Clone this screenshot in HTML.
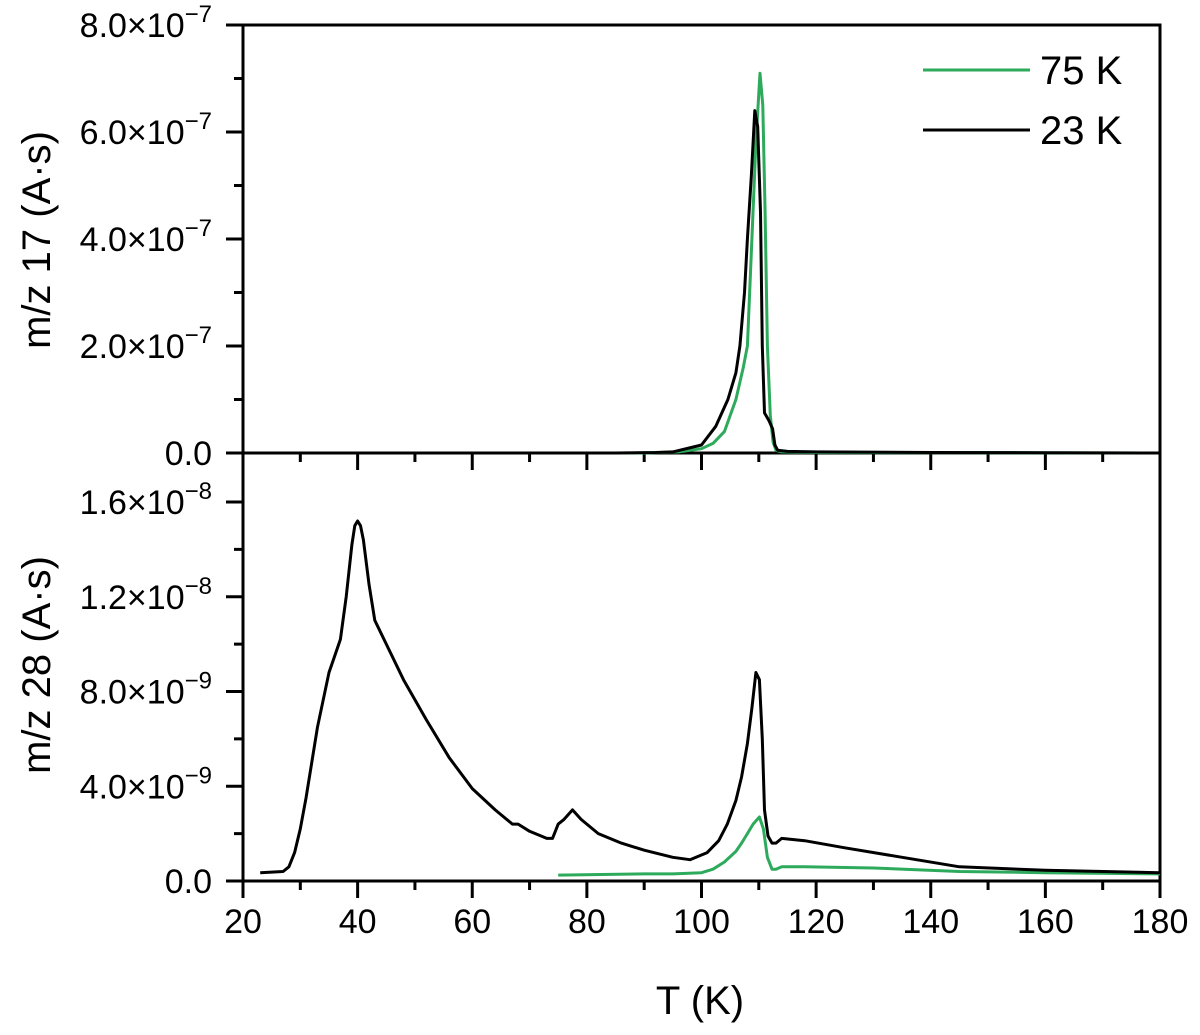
<!DOCTYPE html>
<html><head><meta charset="utf-8"><style>
html,body{margin:0;padding:0;background:#fff;}
svg{display:block;font-family:"Liberation Sans",Arial,sans-serif;}
</style></head><body>
<svg id="chart" width="1200" height="1035" viewBox="0 0 1200 1035">
<g id="axes"></g>
<g id="series"></g>
<g id="labels"></g>
</svg>
<script>
const topBlackT=[20,85,92,95,100,102.5,104.6,106,106.7,107.5,108,108.7,109.3,109.8,110.3,110.6,111,111.8,112.4,112.8,113.3,115,120,140,160,180];
const topBlackV=[0,0,0.01,0.02,0.15,0.5,1.0,1.5,2.0,3.0,4.0,5.2,6.4,6.1,4.5,2.0,0.75,0.6,0.45,0.15,0.05,0.03,0.02,0.01,0.005,0];
const topGreenT=[75,90,96,100,102,104,106,107.3,108,108.8,109.5,110.2,110.7,111.1,111.5,112,112.5,113,114,120,180];
const topGreenV=[0,0,0.02,0.08,0.18,0.4,1.0,1.6,2.0,4.0,5.8,7.1,6.5,4.5,2.0,0.7,0.2,0.05,0.02,0.01,0];
const botBlackT=[23,27,28,29,30,31,33,35,36,37,38,39,39.5,40,40.5,41,42,43,45,48,52,56,60,64,67,68,70,73,74,75,76,77.5,79,82,86,90,95,98,101,103,104.5,106,107,108,108.8,109.5,110.1,110.6,111,111.6,112.3,113,114,118,125,135,145,160,180];
const botBlackV=[0.35,0.4,0.6,1.2,2.2,3.5,6.5,8.8,9.5,10.2,12.0,14.2,15.0,15.2,15.0,14.4,12.5,11,10,8.5,6.8,5.2,3.9,3.0,2.4,2.4,2.1,1.8,1.8,2.4,2.6,3.0,2.6,2.0,1.6,1.3,1.0,0.9,1.2,1.7,2.4,3.4,4.4,5.8,7.3,8.8,8.5,6.0,3.0,1.9,1.6,1.6,1.8,1.7,1.4,1.0,0.6,0.45,0.35];
const botGreenT=[75,90,95,100,102,104,106,107,108,109,110.1,110.8,111.5,112.3,113,114,118,130,145,160,180];
const botGreenV=[0.25,0.3,0.3,0.35,0.5,0.8,1.25,1.6,2.0,2.4,2.7,2.2,1.0,0.5,0.5,0.6,0.6,0.55,0.4,0.35,0.3];
const xTicks=[20,40,60,80,100,120,140,160,180];
const topYTicks=[0,2,4,6,8];
const botYTicks=[0,4,8,12,16];
const topYLabels=["0.0","2.0×10","4.0×10","6.0×10","8.0×10"];
const botYLabels=["0.0","4.0×10","8.0×10","1.2×10","1.6×10"];
const topExp=["","−7","−7","−7","−7"];
const botExp=["","−9","−9","−8","−8"];

const L=243,R=1160,T=25,M=453,B=881;
const X=t=>L+(t-20)*(R-L)/160;
const YT=v=>M-v*(M-T)/8;
const YB=v=>B-v*(B-502)/16;
const NS="http://www.w3.org/2000/svg";
function mk(tag,attrs,parent){const e=document.createElementNS(NS,tag);for(const k in attrs)e.setAttribute(k,attrs[k]);parent.appendChild(e);return e;}
const axes=document.getElementById('axes'),ser=document.getElementById('series'),lab=document.getElementById('labels');

let f=mk('path',{d:`M${L},${T}H${R}V${B}H${L}Z M${L},${M}H${R}`,fill:'none',stroke:'#000','stroke-width':3},axes);



for(let i=0;i<xTicks.length;i++){
  const x=X(xTicks[i]);
  [M,B].forEach(y=>{let t=mk('line',{x1:x,x2:x,y1:y,y2:y+17,stroke:'#000','stroke-width':3},axes);
  
  
  if(i<xTicks.length-1){const xm=X(xTicks[i]+10);let m=mk('line',{x1:xm,x2:xm,y1:y,y2:y+9,stroke:'#000','stroke-width':3},axes);
  
  }});
  let tx=mk('text',{x:x,y:B+52,'font-size':34,'text-anchor':'middle'},lab);tx.textContent=xTicks[i];
  
  
}
function yAxis(ticks,labels,exps,Y){
  for(let i=0;i<ticks.length;i++){
    const y=Y(ticks[i]);
    let t=mk('line',{x1:L-17,x2:L,y1:y,y2:y,stroke:'#000','stroke-width':3},axes);
    
    
    if(i<ticks.length-1){const ym=Y((ticks[i]+ticks[i+1])/2);let m=mk('line',{x1:L-9,x2:L,y1:ym,y2:ym,stroke:'#000','stroke-width':3},axes);
    
    }
    let tx=mk('text',{x:212,y:y+12,'font-size':34,'text-anchor':'end'},lab);
    
    
    tx.textContent=labels[i];
    if(exps[i]){let s=mk('tspan',{dy:-15,'font-size':24},tx);s.textContent=exps[i];}
  }
}
yAxis(topYTicks,topYLabels,topExp,YT);
yAxis(botYTicks,botYLabels,botExp,YB);

function line(ts,vs,Y,color,name){
  const d=ts.map((t,i)=>(i?'L':'M')+X(t).toFixed(1)+','+Y(vs[i]).toFixed(1)).join('');
  let p=mk('path',{d:d,fill:'none',stroke:color,'stroke-width':3,'stroke-linejoin':'round'},ser);
  
  
}
line(topGreenT,topGreenV,YT,'#2eaa5c','top-75k-line');
line(topBlackT,topBlackV,YT,'#000','top-23k-line');
line(botGreenT,botGreenV,YB,'#2eaa5c','bottom-75k-line');
line(botBlackT,botBlackV,YB,'#000','bottom-23k-line');

let a=mk('text',{x:36,y:240,'font-size':40,'text-anchor':'middle',transform:'rotate(-90 36 240)',dy:14},lab);a.textContent='m/z 17 (A·s)';


let b=mk('text',{x:36,y:665,'font-size':40,'text-anchor':'middle',transform:'rotate(-90 36 665)',dy:14},lab);b.textContent='m/z 28 (A·s)';


let c=mk('text',{x:700,y:1014,'font-size':40,'text-anchor':'middle'},lab);c.textContent='T (K)';



const leg=mk('g',{},lab);


[['75 K','#2eaa5c',70],['23 K','#000',130]].forEach(([n,col,y])=>{
  let l=mk('line',{x1:923,x2:1030,y1:y,y2:y,stroke:col,'stroke-width':3},leg);
  
  
  let t=mk('text',{x:1040,y:y+14,'font-size':40},leg);t.textContent=n;
  
  
});
</script>
</body></html>
